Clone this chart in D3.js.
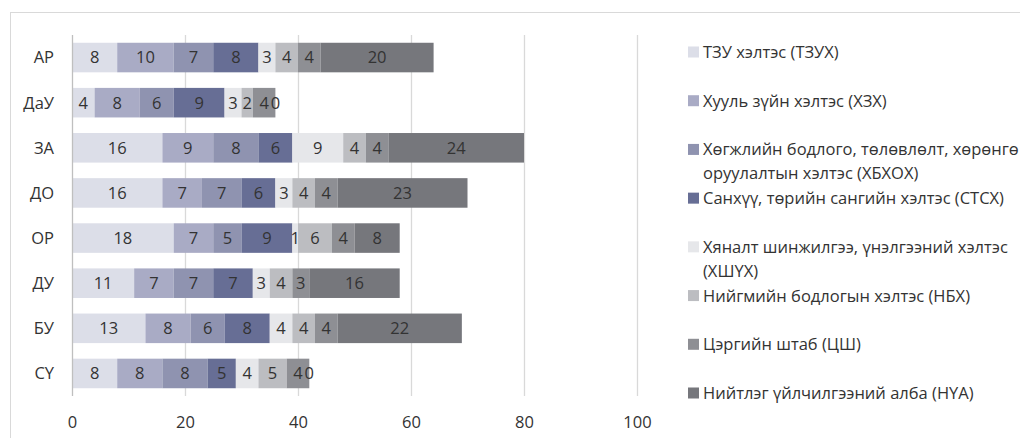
<!DOCTYPE html>
<html>
<head>
<meta charset="utf-8">
<script src="https://cdn.jsdelivr.net/npm/d3@7"></script>
<style>
  html, body { margin: 0; padding: 0; background: #fff; }
  svg { display: block; font-family: "Open Sans", "Noto Sans", sans-serif; }
</style>
</head>
<body>
<svg id="chart" width="1020" height="438"></svg>
<script>
// Departments (rows, top to bottom)
const categories = ["АР", "ДаУ", "ЗА", "ДО", "ОР", "ДУ", "БУ", "СҮ"];

// Staff counts per unit, one array per stacked series
const tzuh  = [8, 4, 16, 16, 18, 11, 13, 8];
const hzh   = [10, 8, 9, 7, 7, 7, 8, 8];
const hbhoh = [7, 6, 8, 7, 5, 7, 6, 8];
const stsh  = [8, 9, 6, 6, 9, 7, 8, 5];
const hshuh = [3, 3, 9, 3, 1, 3, 4, 4];
const nbh   = [4, 2, 4, 4, 6, 4, 4, 5];
const tssh  = [4, 4, 4, 4, 4, 3, 4, 4];
const nua   = [20, 0, 24, 23, 8, 16, 22, 0];

// Legend text (line breaks as wrapped in the legend)
const seriesNames = [
  ["ТЗУ хэлтэс (ТЗУХ)"],
  ["Хууль зүйн хэлтэс (ХЗХ)"],
  ["Хөгжлийн бодлого, төлөвлөлт, хөрөнгө", "оруулалтын хэлтэс (ХБХОХ)"],
  ["Санхүү, төрийн сангийн хэлтэс (СТСХ)"],
  ["Хяналт шинжилгээ, үнэлгээний хэлтэс", "(ХШҮХ)"],
  ["Нийгмийн бодлогын хэлтэс (НБХ)"],
  ["Цэргийн штаб (ЦШ)"],
  ["Нийтлэг үйлчилгээний алба (НҮА)"]
];
const seriesValues = [tzuh, hzh, hbhoh, stsh, hshuh, nbh, tssh, nua];
const xTicks = [0, 20, 40, 60, 80, 100];

const colors = ["#dcdee8", "#a9abc5", "#8f93b0", "#676e95",
                "#e6e7ea", "#bcbdc1", "#8e8f94", "#76777c"];

const svg = d3.select("#chart");

// Outer chart frame
svg.append("rect")
  .attr("x", 10.5).attr("y", 12.5)
  .attr("width", 1020).attr("height", 440)
  .attr("fill", "none").attr("stroke", "#d9d9d9");

const plot = { left: 72, right: 637, top: 35, bottom: 396 };

const x = d3.scaleLinear().domain([0, 100]).range([plot.left, plot.right]);
const y = d3.scaleBand().domain(categories)
  .range([plot.top, plot.bottom]).paddingInner(0.345).paddingOuter(0.172);

// Vertical gridlines
svg.append("g").selectAll("line")
  .data(xTicks.filter(t => t > 0))
  .join("line")
  .attr("x1", d => Math.round(x(d)) + 0.5).attr("x2", d => Math.round(x(d)) + 0.5)
  .attr("y1", plot.top).attr("y2", plot.bottom)
  .attr("stroke", "#d9d9d9").attr("stroke-width", 1.3);

// Build stacked rows
const rows = categories.map((c, i) => {
  const r = { cat: c };
  seriesValues.forEach((arr, k) => { r["s" + k] = arr[i]; });
  return r;
});
const keys = seriesValues.map((_, k) => "s" + k);
const stacked = d3.stack().keys(keys)(rows);

const layers = svg.append("g").selectAll("g")
  .data(stacked)
  .join("g")
  .attr("fill", (d, k) => colors[k]);

layers.selectAll("rect")
  .data(d => d)
  .join("rect")
  .attr("x", d => x(d[0]))
  .attr("width", d => x(d[1]) - x(d[0]))
  .attr("y", d => y(d.data.cat))
  .attr("height", y.bandwidth());

// Value labels centred in each segment
const labels = svg.append("g")
  .attr("font-size", 16.5)
  .attr("fill", "#333")
  .attr("text-anchor", "middle");
stacked.forEach(layer => {
  labels.selectAll(null)
    .data(layer)
    .join("text")
    .attr("x", d => x((d[0] + d[1]) / 2))
    .attr("y", d => y(d.data.cat) + y.bandwidth() / 2)
    .attr("dy", "0.36em")
    .text(d => d[1] - d[0]);
});

// Zero axis line
svg.append("line")
  .attr("x1", x(0) + 0.5).attr("x2", x(0) + 0.5)
  .attr("y1", plot.top).attr("y2", plot.bottom)
  .attr("stroke", "#bfbfbf").attr("stroke-width", 1.3);

// Category axis labels
svg.append("g").selectAll("text")
  .data(categories)
  .join("text")
  .attr("x", 54)
  .attr("y", d => y(d) + y.bandwidth() / 2)
  .attr("dy", "0.36em")
  .attr("text-anchor", "end")
  .attr("font-size", 16.5)
  .attr("fill", "#333")
  .text(d => d);

// Value axis tick labels
const xAxis = d3.axisBottom(x).tickValues(xTicks).tickSize(0).tickPadding(0);
const xg = svg.append("g")
  .attr("transform", `translate(0, ${plot.bottom + 20})`)
  .call(xAxis);
xg.select(".domain").remove();
xg.selectAll("text")
  .attr("font-size", 16.5)
  .attr("font-family", "\"Open Sans\", \"Noto Sans\", sans-serif")
  .attr("fill", "#333");

// Legend
const ly = d3.scaleLinear().domain([0, 7]).range([52, 393]);
const legend = svg.append("g").selectAll("g")
  .data(seriesNames)
  .join("g")
  .attr("transform", (d, k) => `translate(688, ${ly(k)})`);
legend.append("rect")
  .attr("x", 0).attr("y", -5.5)
  .attr("width", 11).attr("height", 11)
  .attr("fill", (d, k) => colors[k]);
legend.append("text")
  .attr("x", 15)
  .attr("font-size", 16.5)
  .attr("fill", "#333")
  .selectAll("tspan")
  .data(d => d)
  .join("tspan")
  .attr("x", 15)
  .attr("y", (d, j) => j * 24)
  .attr("dy", "0.36em")
  .text(d => d);
</script>
</body>
</html>
